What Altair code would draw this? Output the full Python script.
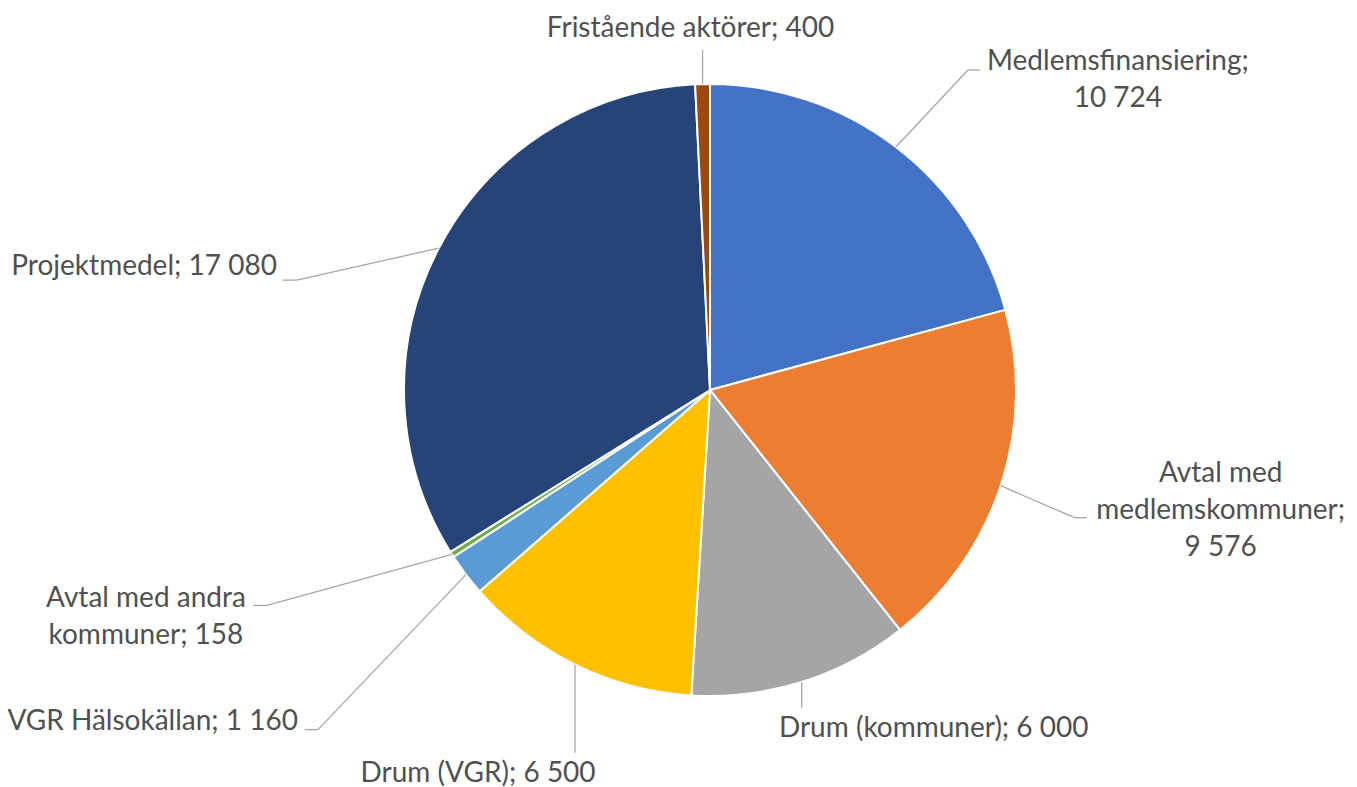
import altair as alt
import pandas as pd

# ---- data ----
categories = [
    "Medlemsfinansiering",
    "Avtal med medlemskommuner",
    "Drum (kommuner)",
    "Drum (VGR)",
    "VGR Hälsokällan",
    "Avtal med andra kommuner",
    "Projektmedel",
    "Fristående aktörer",
]
values = [10724, 9576, 6000, 6500, 1160, 158, 17080, 400]
label_heads = [
    "Medlemsfinansiering;\n",
    "Avtal med\nmedlemskommuner;\n",
    "Drum (kommuner); ",
    "Drum (VGR); ",
    "VGR Hälsokällan; ",
    "Avtal med andra\nkommuner; ",
    "Projektmedel; ",
    "Fristående aktörer; ",
]
colors = ["#4472C4", "#ED7D31", "#A5A5A5", "#FFC000", "#5B9BD5", "#70AD47", "#264478", "#9E480E"]

# ---- label layout (offsets relative to the slice edge point, styling only) ----
# (elbow dx, elbow dy, hook length, text dx, text dy, align)
label_layout = [
    (72, -77, 12, 138, 0, "center"),
    (74, 32, 12, 134, -36, "center"),
    (0, 26, 0, 132, 29, "center"),
    (0, 88, 0, -97, 29, "center"),
    (-148, 155, -13, -7, 0, "right"),
    (-185, 51, -14, -107, 2, "center"),
    (-142, 32, -14, -6, -5, "right"),
    (0, -34, 0, -12, -13, "center"),
]

CX, CY, R = 702, 382, 306
FONT = "Lato"
FS = 28
TXT = "#505050"
LINE = "#A6A6A6"


def fmt(v):
    return f"{v:,}".replace(",", " ")


df = pd.DataFrame({
    "idx": list(range(len(categories))),
    "category": categories,
    "value": values,
    "label": [h + fmt(v) for h, v in zip(label_heads, values)],
    "edx": [l[0] for l in label_layout],
    "edy": [l[1] for l in label_layout],
    "hook": [l[2] for l in label_layout],
    "tdx": [l[3] for l in label_layout],
    "tdy": [l[4] for l in label_layout],
    "align": [l[5] for l in label_layout],
})

base = alt.Chart(df)

arcs = base.mark_arc(outerRadius=R, stroke="white", strokeWidth=2).encode(
    theta=alt.Theta("value:Q", stack=True),
    color=alt.Color("category:N", scale=alt.Scale(domain=categories, range=colors), legend=None),
    order=alt.Order("idx:Q"),
    x=alt.value(CX),
    y=alt.value(CY),
)

lab = base.transform_joinaggregate(total="sum(value)").transform_window(
    cum="sum(value)", sort=[alt.SortField("idx")], frame=[None, 0]
).transform_calculate(
    mid="(datum.cum - datum.value / 2) / datum.total * 2 * PI"
).transform_calculate(
    ex=f"{CX} + {R} * sin(datum.mid)",
    ey=f"{CY} - {R} * cos(datum.mid)",
).transform_calculate(
    bx="datum.ex + datum.edx",
    by="datum.ey + datum.edy",
).transform_calculate(
    hx="datum.bx + datum.hook",
    hy="datum.by",
).transform_calculate(
    tx="datum.hx + datum.tdx",
    ty="datum.hy + datum.tdy",
)

X = lambda f: alt.X(f"{f}:Q", scale=None, axis=None)
Y = lambda f: alt.Y(f"{f}:Q", scale=None, axis=None)

seg1 = lab.mark_rule(color=LINE, strokeWidth=1.3).encode(
    x=X("ex"), y=Y("ey"), x2="bx:Q", y2="by:Q"
)
seg2 = lab.transform_filter("datum.hook != 0").mark_rule(color=LINE, strokeWidth=1.3).encode(
    x=X("bx"), y=Y("by"), x2="hx:Q", y2="hy:Q"
)
text_c = lab.transform_filter("datum.align == 'center'").mark_text(
    align="center", baseline="alphabetic", font=FONT, fontSize=FS, color=TXT,
    lineBreak="\n", lineHeight=37,
).encode(x=X("tx"), y=Y("ty"), text="label:N")
text_r = lab.transform_filter("datum.align == 'right'").mark_text(
    align="right", baseline="alphabetic", font=FONT, fontSize=FS, color=TXT,
    lineBreak="\n", lineHeight=37,
).encode(x=X("tx"), y=Y("ty"), text="label:N")

chart = alt.layer(arcs, seg1, seg2, text_c, text_r).properties(
    width=1341, height=779, padding=0,
    autosize=alt.AutoSizeParams(type="none"),
).configure_view(stroke=None)

chart.save("out.html", embed_options={"renderer": "svg", "actions": False})
